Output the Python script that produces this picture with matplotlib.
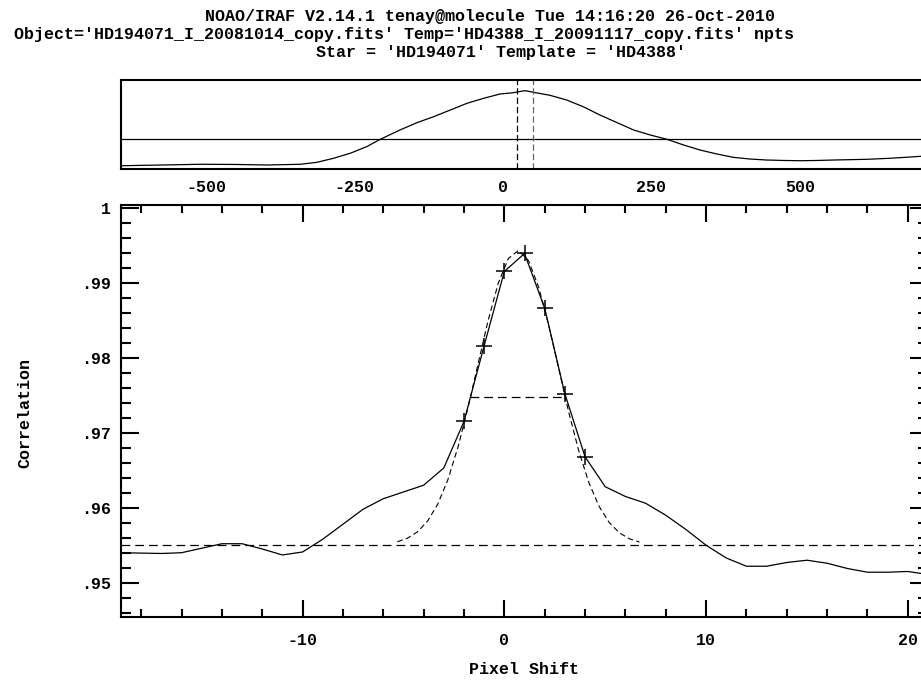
import matplotlib
matplotlib.use("Agg")
import matplotlib.pyplot as plt
from matplotlib.ticker import FixedLocator, FixedFormatter

FONT = ["Liberation Mono", "DejaVu Sans Mono"]
plt.rcParams["font.family"] = FONT
plt.rcParams["font.weight"] = "bold"

TITLE = [
    "NOAO/IRAF V2.14.1 tenay@molecule Tue 14:16:20 26-Oct-2010",
    "Object='HD194071_I_20081014_copy.fits' Temp='HD4388_I_20091117_copy.fits' npts",
    "Star = 'HD194071' Template = 'HD4388'",
]

# top panel: whole ccf, y in arbitrary units (0 = bottom of box, 1 = top)
full_lag = [-650, -600, -550, -511, -450, -398, -342, -314, -286, -258, -230, -207,
            -174, -145, -117, -89, -61, -33, -5, 17, 23, 37, 51, 79, 107, 135, 163,
            192, 220, 248, 276, 304, 332, 360, 388, 416, 444, 472, 501, 530, 557, 585,
            613, 650, 680, 720]
full_ccf = [0.036, 0.042, 0.048, 0.053, 0.051, 0.045, 0.053, 0.075, 0.120, 0.176,
            0.251, 0.334, 0.438, 0.521, 0.588, 0.663, 0.738, 0.794, 0.843, 0.857,
            0.865, 0.880, 0.862, 0.828, 0.775, 0.700, 0.607, 0.521, 0.438, 0.382,
            0.334, 0.270, 0.213, 0.169, 0.131, 0.112, 0.101, 0.096, 0.093, 0.096,
            0.101, 0.105, 0.109, 0.120, 0.132, 0.150]
window_marks = [24, 50]
cut_level = 0.334
top_ticks = [-500, -250, 0, 250, 500]
top_labels = ["-500", "-250", "0", "250", "500"]

# main panel: ccf around the peak
shift = list(range(-19, 22))
corr = [0.9540, 0.95395, 0.9539, 0.9540, 0.9546, 0.9552, 0.9552, 0.9545, 0.9537, 0.9541,
        0.9558, 0.9578, 0.9598, 0.9612, 0.9621, 0.9630, 0.9653, 0.9715, 0.9816, 0.9915,
        0.9939, 0.9866, 0.9752, 0.9668, 0.9628, 0.9615, 0.9606, 0.9590, 0.9571, 0.9550,
        0.9533, 0.9522, 0.9522, 0.9527, 0.9530, 0.9526, 0.9519, 0.9514, 0.9514, 0.9515,
        0.9511]
fit_pts_shift = [-2, -1, 0, 1, 2, 3, 4]
fit_pts_corr = [0.9715, 0.9816, 0.9915, 0.9939, 0.9866, 0.9752, 0.9668]

# dashed fitted curve
fit_shift = [-5.3, -4.8, -4.3, -3.8, -3.3, -2.8, -2.3, -1.8, -1.3, -0.8, -0.3, 0.2, 0.7,
             1.2, 1.7, 2.2, 2.7, 3.2, 3.7, 4.2, 4.7, 5.2, 5.7, 6.2, 6.7]
fit_corr = [0.95546, 0.95594, 0.95679, 0.95823, 0.96048, 0.96372, 0.96805, 0.97333,
            0.97919, 0.98500, 0.98994, 0.99323, 0.99430, 0.99294, 0.98942, 0.98433,
            0.97848, 0.97266, 0.96747, 0.96328, 0.96016, 0.95802, 0.95666, 0.95586,
            0.95542]
fwhm_shift = [-1.69, 3.0]
fwhm_level = 0.9747
background = 0.955

x_major = [-10, 0, 10, 20]
x_labels = ["-10", "0", "10", "20"]
x_minor = list(range(-18, 21, 2))
y_major = [0.95, 0.96, 0.97, 0.98, 0.99, 1.0]
y_labels = [".95", ".96", ".97", ".98", ".99", "1"]
y_minor = [0.946, 0.948, 0.952, 0.954, 0.956, 0.958, 0.962, 0.964, 0.966, 0.968,
           0.972, 0.974, 0.976, 0.978, 0.982, 0.984, 0.986, 0.988, 0.992, 0.994,
           0.996, 0.998]

W, H = 921, 681
fig = plt.figure(figsize=(W / 100, H / 100), dpi=100)

# axes run past the right edge, the original picture is cropped there
L, R = 121, 928
ax_top = fig.add_axes([L / W, 1 - 169 / H, (R - L) / W, 89 / H])
ax = fig.add_axes([L / W, 1 - 616.7 / H, (R - L) / W, (616.7 - 205) / H])

ax_top.plot(full_lag, full_ccf, color="black", lw=0.9)
ax_top.axhline(cut_level, color="black", lw=0.9)
ax_top.axvline(window_marks[0], color="black", lw=0.9, ls=(0, (5, 2.5)))
ax_top.axvline(window_marks[1], color="0.4", lw=0.9, ls=(0, (5, 2.5)))
ax_top.set_xlim(-644, 716)
ax_top.set_ylim(0, 1)
ax_top.set_yticks([])
ax_top.xaxis.set_major_locator(FixedLocator(top_ticks))
ax_top.xaxis.set_major_formatter(FixedFormatter(top_labels))
ax_top.tick_params(axis="x", length=0, pad=8, labelsize=12)

ax.plot(shift, corr, color="black", lw=0.9)
ax.plot(fit_shift, fit_corr, color="black", lw=0.8, ls=(0, (5, 3)))
ax.plot(fit_pts_shift, fit_pts_corr, ls="none", marker="+", ms=11, mew=1.1, color="black")
ax.plot(fwhm_shift, [fwhm_level, fwhm_level], color="black", lw=0.9, ls=(0, (7, 4)))
ax.axhline(background, color="black", lw=0.9, ls=(0, (7, 4)))

ax.set_xlim(-19, 21)
ax.set_ylim(0.94547, 1.00036)
ax.xaxis.set_major_locator(FixedLocator(x_major))
ax.xaxis.set_major_formatter(FixedFormatter(x_labels))
ax.xaxis.set_minor_locator(FixedLocator(x_minor))
ax.yaxis.set_major_locator(FixedLocator(y_major))
ax.yaxis.set_major_formatter(FixedFormatter(y_labels))
ax.yaxis.set_minor_locator(FixedLocator(y_minor))
ax.tick_params(which="both", direction="in", top=True, right=True, width=1.5,
               labelsize=12)
ax.tick_params(axis="x", which="major", length=12, pad=12)
ax.tick_params(axis="x", which="minor", length=6)
ax.tick_params(axis="y", which="major", length=13, pad=7)
ax.tick_params(axis="y", which="minor", length=7)

for a in (ax, ax_top):
    for s in a.spines.values():
        s.set_linewidth(1.5)

fig.text(490 / W, 1 - 17 / H, TITLE[0], ha="center", va="center", fontsize=12)
fig.text(404 / W, 1 - 34 / H, TITLE[1], ha="center", va="center", fontsize=12)
fig.text(501 / W, 1 - 52 / H, TITLE[2], ha="center", va="center", fontsize=12)
fig.text(524 / W, 1 - 670 / H, "Pixel Shift", ha="center", va="center", fontsize=12)
fig.text(25 / W, 1 - 413 / H, "Correlation", ha="center", va="center",
         rotation=90, fontsize=12)

fig.savefig("out.png", dpi=100)
